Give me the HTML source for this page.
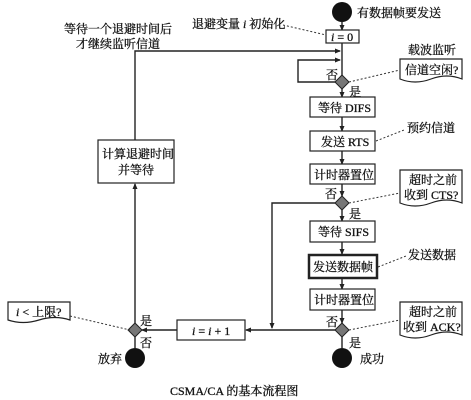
<!DOCTYPE html>
<html><head><meta charset="utf-8"><style>
html,body{margin:0;padding:0;background:#fff;}
svg{display:block;}
text{font-family:"Liberation Serif","Noto Serif CJK SC","Noto Sans CJK SC",serif;font-size:12px;fill:#111;stroke:#111;stroke-width:0.3;}
.b{fill:#fff;stroke:#222;stroke-width:1.2;}
.l{stroke:#222;stroke-width:1.4;fill:none;}
.d{stroke:#333;stroke-width:1;stroke-dasharray:2,2;fill:none;}
</style></head><body>
<svg width="471" height="400" viewBox="0 0 471 400" xmlns="http://www.w3.org/2000/svg">
<defs><marker id="a" markerWidth="6" markerHeight="6" refX="5" refY="3" orient="auto" markerUnits="userSpaceOnUse"><path d="M0,0.5 L6,3 L0,5.5 Z" fill="#222"/></marker></defs>
<circle cx="342" cy="12" r="10" fill="#111"/>
<text x="357" y="17">有数据帧要发送</text>
<line class="l" x1="342" y1="22" x2="342" y2="30" marker-end="url(#a)"/>
<rect class="b" x="326" y="30" width="33" height="13"/>
<text x="331" y="41"><tspan font-style="italic">i</tspan> = 0</text>
<text x="192" y="28">退避变量 <tspan font-style="italic">i</tspan> 初始化</text>
<line class="d" x1="283" y1="25" x2="326" y2="35"/>
<text x="64" y="33">等待一个退避时间后</text>
<text x="76" y="48">才继续监听信道</text>
<line class="l" x1="342" y1="43" x2="342" y2="76"/>
<polyline class="l" points="135,140 135,51 340,51" marker-end="url(#a)"/>
<polyline class="l" points="336,82 298,82 298,60 340,60" marker-end="url(#a)"/>
<path d="M342,75 L349,82 L342,89 L335,82 Z" fill="#777" stroke="#222"/>
<text x="326" y="79">否</text>
<text x="349" y="96">是</text>
<text x="408" y="54">载波监听</text>
<path class="b" d="M400,59 H462 V79 Q447,73 431,79 Q415,85 400,79 Z"/>
<text x="405" y="74">信道空闲?</text>
<line class="d" x1="349" y1="82" x2="400" y2="70"/>
<line class="l" x1="342" y1="89" x2="342" y2="97" marker-end="url(#a)"/>
<rect class="b" x="310" y="97" width="65" height="20"/>
<text x="318" y="112">等待 DIFS</text>
<line class="l" x1="342" y1="117" x2="342" y2="131" marker-end="url(#a)"/>
<rect class="b" x="310" y="131" width="65" height="20"/>
<text x="321" y="146">发送 RTS</text>
<text x="407" y="132">预约信道</text>
<line class="d" x1="376" y1="141" x2="404" y2="130"/>
<line class="l" x1="342" y1="151" x2="342" y2="164" marker-end="url(#a)"/>
<rect class="b" x="310" y="164" width="65" height="20"/>
<text x="314" y="179">计时器置位</text>
<line class="l" x1="342" y1="184" x2="342" y2="196" marker-end="url(#a)"/>
<path d="M342,196 L349,203 L342,210 L335,203 Z" fill="#777" stroke="#222"/>
<text x="325" y="198">否</text>
<text x="349" y="218">是</text>
<path class="b" d="M400,170 H462 V203 Q447,197 431,203 Q415,209 400,203 Z"/>
<text x="409" y="184">超时之前</text>
<text x="404" y="199">收到 CTS?</text>
<line class="d" x1="349" y1="203" x2="400" y2="193"/>
<polyline class="l" points="335,203 272,203 272,328" marker-end="url(#a)"/>
<line class="l" x1="342" y1="210" x2="342" y2="221" marker-end="url(#a)"/>
<rect class="b" x="310" y="221" width="65" height="21"/>
<text x="318" y="236">等待 SIFS</text>
<line class="l" x1="342" y1="242" x2="342" y2="254" marker-end="url(#a)"/>
<rect x="309" y="255" width="68" height="23" fill="#fff" stroke="#222" stroke-width="2.5"/>
<text x="313" y="271">发送数据帧</text>
<text x="408" y="259">发送数据</text>
<line class="d" x1="378" y1="267" x2="406" y2="256"/>
<line class="l" x1="342" y1="278" x2="342" y2="289" marker-end="url(#a)"/>
<rect class="b" x="310" y="289" width="65" height="21"/>
<text x="314" y="304">计时器置位</text>
<line class="l" x1="342" y1="310" x2="342" y2="323" marker-end="url(#a)"/>
<path d="M342,323 L349,330 L342,337 L335,330 Z" fill="#777" stroke="#222"/>
<text x="326" y="326">否</text>
<text x="349" y="347">是</text>
<path class="b" d="M400,302 H462 V335 Q447,329 431,335 Q415,341 400,335 Z"/>
<text x="409" y="316">超时之前</text>
<text x="403" y="331">收到 ACK?</text>
<line class="d" x1="349" y1="330" x2="400" y2="320"/>
<line class="l" x1="342" y1="337" x2="342" y2="348"/>
<circle cx="342" cy="358" r="10" fill="#111"/>
<text x="360" y="363">成功</text>
<line class="l" x1="335" y1="330" x2="246" y2="330" marker-end="url(#a)"/>
<rect class="b" x="177" y="320" width="68" height="20"/>
<text x="192" y="335"><tspan font-style="italic">i</tspan> = <tspan font-style="italic">i</tspan> + 1</text>
<line class="l" x1="177" y1="330" x2="142" y2="330" marker-end="url(#a)"/>
<path d="M135,323 L142,330 L135,337 L128,330 Z" fill="#777" stroke="#222"/>
<text x="140" y="325">是</text>
<text x="140" y="347">否</text>
<line class="l" x1="135" y1="323" x2="135" y2="184" marker-end="url(#a)"/>
<rect class="b" x="98" y="140" width="76" height="43"/>
<text x="102" y="158">计算退避时间</text>
<text x="118" y="174">并等待</text>
<line class="l" x1="135" y1="337" x2="135" y2="348"/>
<circle cx="135" cy="358" r="10" fill="#111"/>
<text x="98" y="363">放弃</text>
<path class="b" d="M8,302 H70 V320 Q55,315 39,320 Q23,325 8,320 Z"/>
<text x="16" y="316"><tspan font-style="italic">i</tspan> &lt; 上限?</text>
<line class="d" x1="70" y1="316" x2="130" y2="330"/>
<text x="170" y="395" font-size="14">CSMA/CA 的基本流程图</text>
</svg>
</body></html>
